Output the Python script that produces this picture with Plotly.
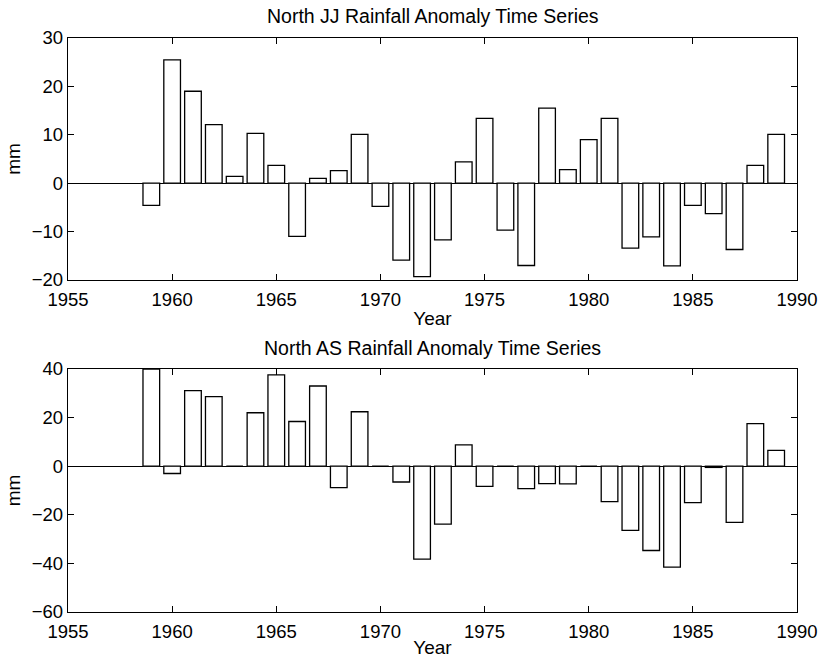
import plotly.graph_objects as go

years = list(range(1959, 1990))

jj_values = [-4.6, 25.5, 19.0, 12.1, 1.4, 10.3, 3.7, -11.0, 1.0, 2.6, 10.1,
             -4.8, -15.9, -19.3, -11.7, 4.4, 13.4, -9.7, -17.0, 15.5, 2.8,
             9.0, 13.4, -13.4, -11.1, -17.1, -4.6, -6.3, -13.7, 3.7, 10.1]

as_values = [40.0, -3.0, 31.1, 28.6, 0.0, 22.0, 37.6, 18.4, 33.0, -8.8, 22.4,
             0.0, -6.5, -38.2, -23.8, 8.8, -8.3, 0.0, -9.2, -7.2, -7.3,
             0.0, -14.6, -26.4, -34.7, -41.5, -15.0, -0.5, -23.1, 17.5, 6.5]

x_ticks = [1955, 1960, 1965, 1970, 1975, 1980, 1985, 1990]
jj_yticks = [-20, -10, 0, 10, 20, 30]
as_yticks = [-60, -40, -20, 0, 20, 40]

titles = ["North JJ Rainfall Anomaly Time Series",
          "North AS Rainfall Anomaly Time Series"]

FONT = "Liberation Sans, Arial, Helvetica, sans-serif"

fig = go.Figure()

bar_style = dict(marker=dict(color="white", line=dict(color="black", width=1.3)),
                 width=0.8, showlegend=False, hoverinfo="x+y")

fig.add_trace(go.Bar(x=years, y=jj_values, xaxis="x", yaxis="y", **bar_style))
fig.add_trace(go.Bar(x=years, y=as_values, xaxis="x2", yaxis="y2", **bar_style))

H_TOTAL = 658 - 38 - 46
top_bottom = (612 - 280) / H_TOTAL
bot_top = (612 - 369) / H_TOTAL

axis_common = dict(showline=True, linecolor="black", linewidth=1.3, mirror="ticks",
                   ticks="inside", ticklen=6, tickcolor="black", tickwidth=1,
                   showgrid=False, automargin=False,
                   tickfont=dict(size=18.5, color="black", family=FONT))

fig.update_layout(
    width=826, height=658,
    margin=dict(l=68, r=29, t=38, b=46, autoexpand=False),
    paper_bgcolor="white", plot_bgcolor="white",
    font=dict(family=FONT, color="black", size=18),
    bargap=0.2,
    xaxis=dict(domain=[0, 1], anchor="y", range=[1955, 1990], tickvals=x_ticks,
               ticklabelstandoff=3,
               title=dict(text="Year", standoff=2, font=dict(size=19)), zeroline=False, **axis_common),
    yaxis=dict(domain=[top_bottom, 1], anchor="x", range=[-20, 30], tickvals=jj_yticks,
               title=dict(text="mm", standoff=6, font=dict(size=19)),
               zeroline=True, zerolinecolor="black", zerolinewidth=1.3, **axis_common),
    xaxis2=dict(domain=[0, 1], anchor="y2", range=[1955, 1990], tickvals=x_ticks,
                ticklabelstandoff=3,
                title=dict(text="Year", standoff=2, font=dict(size=19)), zeroline=False, **axis_common),
    yaxis2=dict(domain=[0, bot_top], anchor="x2", range=[-60, 40], tickvals=as_yticks,
                title=dict(text="mm", standoff=6, font=dict(size=19)),
                zeroline=True, zerolinecolor="black", zerolinewidth=1.3, **axis_common),
    annotations=[
        dict(text=titles[0], xref="paper", yref="paper", x=0.5, y=(612 - 16) / H_TOTAL,
             xanchor="center", yanchor="middle", showarrow=False, font=dict(size=19.5)),
        dict(text=titles[1], xref="paper", yref="paper", x=0.5, y=(612 - 348) / H_TOTAL,
             xanchor="center", yanchor="middle", showarrow=False, font=dict(size=19.5)),
    ],
)

fig.write_html("out.html", config={"displayModeBar": False},
               post_script="document.body.style.margin='0';")
